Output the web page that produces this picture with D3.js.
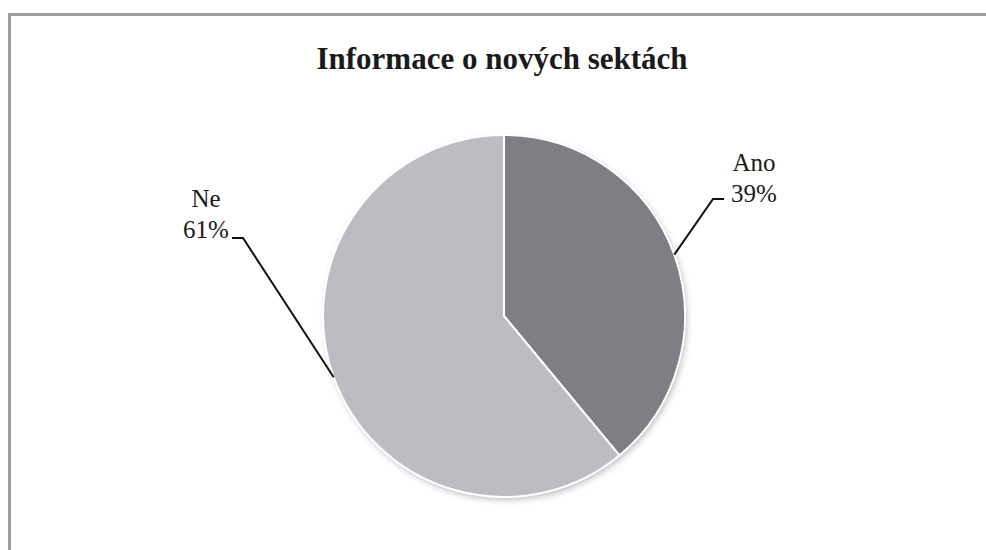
<!DOCTYPE html>
<html>
<head>
<meta charset="utf-8">
<script src="https://cdn.jsdelivr.net/npm/d3@7"></script>
<style>
  body{margin:0;background:#fff;}
  svg{display:block;}
</style>
</head>
<body>
<div id="chart"></div>
<script>
var categories=['Ano','Ne']
var values=[39,61]
var colors=['#7e7f84','#bcbdc2']
var title='Informace o nových sektách'

var width=986, height=550
var cx=504, cy=316, radius=181
// label anchor offsets from pie centre (elbow of leader line)
var labelPos=[{x:209,y:-117,anchor:'start'},{x:-261,y:-78,anchor:'end'}]

var svg=d3.select('#chart').append('svg')
    .attr('width',width)
    .attr('height',height)

var defs=svg.append('defs')
var f=defs.append('filter').attr('id','shadow')
    .attr('x','-10%').attr('y','-10%').attr('width','130%').attr('height','130%')
f.append('feDropShadow')
    .attr('dx',2).attr('dy',3).attr('stdDeviation',3)
    .attr('flood-color','#000').attr('flood-opacity',0.25)

// frame
svg.append('path')
    .attr('d','M9.5,'+height+'V14.5H'+width)
    .attr('fill','none')
    .attr('stroke','#9d9d9f')
    .attr('stroke-width',3)

svg.append('text')
    .attr('x',502)
    .attr('y',69)
    .attr('text-anchor','middle')
    .attr('font-family','Liberation Serif, Times New Roman, serif')
    .attr('font-weight','bold')
    .attr('font-size',31)
    .attr('fill','#1a1a1a')
    .text(title)

var pie=d3.pie().sort(null).value(function(d){return d})
var arcs=pie(values)
var arc=d3.arc().innerRadius(0).outerRadius(radius)

var g=svg.append('g').attr('transform','translate('+cx+','+cy+')')

g.append('circle')
    .attr('r',radius)
    .attr('fill','#fff')
    .attr('filter','url(#shadow)')

g.selectAll('path.slice')
    .data(arcs)
    .enter().append('path')
    .attr('class','slice')
    .attr('d',arc)
    .attr('fill',function(d,i){return colors[i]})
    .attr('stroke','#fff')
    .attr('stroke-width',2)

var lab=g.selectAll('g.lab')
    .data(arcs)
    .enter().append('g')
    .attr('class','lab')

lab.append('polyline')
    .attr('points',function(d,i){
	var a=(d.startAngle+d.endAngle)/2
	var p=[Math.sin(a)*radius,-Math.cos(a)*radius]
	var e=labelPos[i]
	var h=e.anchor=='start'?11:-11
	return [p,[e.x,e.y],[e.x+h,e.y]].map(function(q){return q.join(',')}).join(' ')
    })
    .attr('fill','none')
    .attr('stroke','#111')
    .attr('stroke-width',2)

var txt=lab.append('text')
    .attr('font-family','Liberation Serif, Times New Roman, serif')
    .attr('font-size',25)
    .attr('fill','#1a1a1a')
    .attr('text-anchor','middle')

txt.append('tspan')
    .attr('x',function(d,i){return labelPos[i].anchor=='start'?labelPos[i].x+41:labelPos[i].x-37})
    .attr('y',function(d,i){return labelPos[i].anchor=='start'?-145:-109})
    .text(function(d,i){return categories[i]})
txt.append('tspan')
    .attr('x',function(d,i){return labelPos[i].anchor=='start'?labelPos[i].x+41:labelPos[i].x-37})
    .attr('dy',i=>i==0?29:31)
    .text(function(d,i){return values[i]+'%'})
</script>
</body>
</html>
